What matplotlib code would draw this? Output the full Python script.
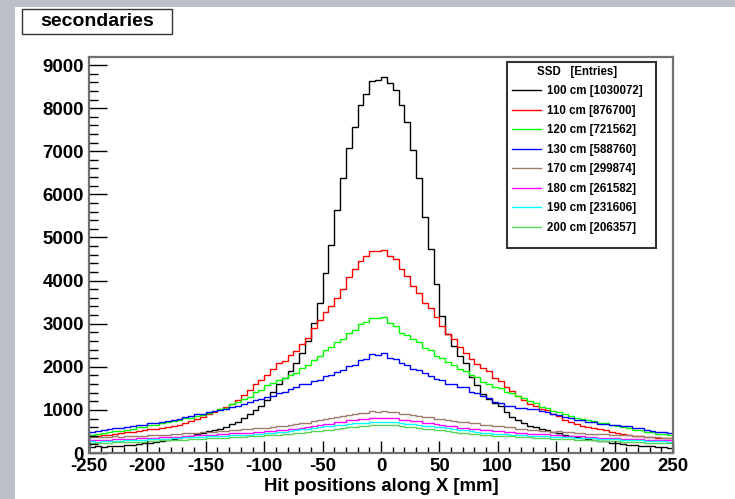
import numpy as np
import matplotlib
matplotlib.use('Agg')
import matplotlib.pyplot as plt
from matplotlib.patches import Rectangle
from matplotlib.ticker import MultipleLocator

plt.rcParams['font.family'] = 'Liberation Sans'
plt.rcParams['font.weight'] = 'bold'
plt.rcParams['axes.unicode_minus'] = False  # plain hyphen for negative ticks

# histogram binning along X (5 mm bins)
x_min, x_max = -250, 250
n_bins = 100

labels = ['100 cm [1030072]', '110 cm [876700]', '120 cm [721562]', '130 cm [588760]',
          '170 cm [299874]', '180 cm [261582]', '190 cm [231606]', '200 cm [206357]']
colors = ['#000000', '#ff0000', '#00ff00', '#0000ff', '#9c7a6e', '#ff00ff', '#00ffff', '#59d454']

# bin contents, left to right
h100 = [140, 152, 143, 160, 168, 172, 188, 193, 212, 222,
        243, 258, 283, 298, 328, 347, 373, 398, 433, 466,
        512, 528, 563, 598, 664, 726, 805, 895, 1008, 1094,
        1226, 1414, 1608, 1742, 1912, 2090, 2315, 2590, 3020, 3480,
        4170, 4830, 5630, 6370, 7080, 7570, 8080, 8320, 8640, 8660,
        8720, 8590, 8430, 8070, 7680, 7020, 6380, 5470, 4730, 3920,
        3180, 2760, 2490, 2240, 2090, 1770, 1570, 1360, 1260, 1150,
        1090, 955, 845, 755, 705, 636, 594, 546, 523, 487,
        458, 422, 397, 368, 347, 318, 307, 283, 267, 243,
        227, 203, 192, 178, 172, 158, 152, 138, 132, 115]
h110 = [383, 392, 414, 418, 444, 456, 479, 491, 514, 522,
        549, 561, 584, 597, 635, 661, 706, 740, 796, 835,
        907, 954, 1028, 1073, 1148, 1222, 1350, 1452, 1590, 1682,
        1812, 1940, 2085, 2140, 2275, 2368, 2520, 2665, 2900, 3085,
        3280, 3405, 3600, 3800, 4075, 4260, 4445, 4560, 4680, 4690,
        4710, 4580, 4500, 4265, 4095, 3865, 3715, 3485, 3375, 3165,
        2955, 2770, 2645, 2470, 2325, 2170, 2055, 1980, 1895, 1750,
        1680, 1532, 1438, 1322, 1238, 1144, 1096, 1024, 986, 914,
        856, 775, 726, 665, 634, 596, 578, 546, 528, 497,
        473, 437, 423, 397, 388, 372, 367, 352, 347, 338]
h120 = [423, 437, 463, 477, 499, 512, 539, 556, 594, 611,
        645, 656, 695, 711, 750, 771, 806, 820, 856, 876,
        926, 965, 1016, 1055, 1127, 1174, 1248, 1302, 1410, 1472,
        1580, 1632, 1690, 1733, 1812, 1850, 1975, 2048, 2168, 2245,
        2380, 2455, 2580, 2645, 2790, 2855, 3000, 3035, 3135, 3120,
        3160, 3025, 2935, 2785, 2735, 2635, 2585, 2445, 2385, 2255,
        2215, 2105, 2045, 1948, 1892, 1808, 1762, 1650, 1610, 1532,
        1498, 1422, 1388, 1312, 1278, 1212, 1158, 1072, 1036, 974,
        946, 894, 866, 814, 796, 754, 736, 694, 686, 649,
        636, 594, 580, 544, 526, 489, 480, 450, 440, 416]
h130 = [494, 507, 534, 546, 575, 586, 614, 626, 650, 661,
        686, 696, 726, 741, 776, 795, 836, 855, 896, 914,
        952, 964, 1008, 1024, 1068, 1094, 1148, 1173, 1230, 1252,
        1310, 1332, 1400, 1422, 1492, 1530, 1592, 1600, 1675, 1698,
        1775, 1798, 1878, 1915, 2020, 2045, 2150, 2185, 2285, 2280,
        2315, 2215, 2180, 2085, 2040, 1945, 1915, 1845, 1795, 1718,
        1695, 1608, 1600, 1538, 1522, 1418, 1402, 1318, 1282, 1190,
        1160, 1100, 1090, 1052, 1053, 1022, 1012, 968, 957, 903,
        872, 824, 811, 768, 756, 718, 710, 684, 680, 658,
        656, 624, 616, 584, 570, 530, 520, 490, 480, 455]
h170 = [372, 362, 378, 368, 384, 382, 384, 387, 399, 396,
        409, 412, 424, 427, 444, 441, 459, 456, 475, 476,
        495, 496, 515, 516, 535, 536, 555, 551, 570, 571,
        590, 596, 620, 626, 656, 665, 696, 705, 742, 754,
        792, 804, 842, 853, 893, 898, 933, 938, 964, 952,
        968, 944, 948, 913, 908, 873, 868, 833, 828, 793,
        788, 758, 753, 723, 722, 693, 688, 653, 652, 623,
        622, 593, 592, 563, 567, 538, 542, 518, 521, 498,
        500, 480, 480, 460, 460, 442, 444, 430, 434, 420,
        424, 414, 419, 400, 399, 381, 379, 361, 358, 342]
h180 = [303, 302, 313, 312, 323, 322, 333, 332, 343, 342,
        353, 352, 364, 366, 379, 381, 394, 396, 409, 411,
        424, 426, 439, 441, 454, 456, 474, 471, 489, 491,
        509, 506, 525, 525, 550, 560, 590, 600, 636, 644,
        676, 684, 717, 723, 757, 758, 792, 793, 817, 813,
        822, 803, 802, 773, 767, 738, 732, 698, 697, 663,
        657, 623, 617, 583, 577, 548, 546, 524, 525, 505,
        504, 486, 484, 466, 463, 452, 448, 436, 433, 417,
        418, 402, 403, 387, 388, 372, 373, 357, 358, 342,
        343, 332, 333, 322, 323, 312, 313, 302, 303, 297]
h190 = [267, 266, 275, 276, 286, 286, 296, 296, 308, 310,
        321, 322, 333, 336, 348, 348, 360, 363, 375, 376,
        386, 386, 396, 396, 406, 406, 418, 423, 438, 443,
        458, 463, 484, 492, 514, 522, 549, 557, 584, 597,
        619, 627, 649, 657, 679, 687, 704, 707, 719, 716,
        722, 709, 709, 692, 684, 662, 654, 632, 624, 602,
        594, 572, 559, 537, 529, 502, 494, 472, 469, 452,
        449, 432, 429, 412, 411, 400, 401, 390, 391, 380,
        381, 369, 368, 355, 355, 343, 341, 329, 329, 317,
        317, 303, 303, 291, 291, 280, 281, 270, 271, 263]
h200 = [227, 226, 235, 235, 245, 245, 255, 255, 265, 266,
        278, 279, 290, 290, 301, 302, 313, 315, 326, 328,
        340, 342, 353, 355, 366, 368, 380, 383, 396, 398,
        411, 413, 428, 433, 448, 458, 473, 483, 503, 513,
        533, 543, 563, 573, 593, 603, 623, 628, 643, 646,
        653, 643, 638, 623, 613, 593, 583, 563, 553, 533,
        523, 503, 493, 473, 463, 443, 438, 423, 418, 403,
        401, 388, 386, 374, 373, 360, 358, 346, 344, 332,
        330, 318, 316, 304, 303, 293, 293, 283, 283, 273,
        271, 260, 259, 248, 248, 238, 239, 230, 231, 223]

hists = [h100, h110, h120, h130, h170, h180, h190, h200]
edges = np.linspace(x_min, x_max, n_bins + 1)

W, H = 735, 499
fig = plt.figure(figsize=(W / 100, H / 100), dpi=100)
fig.patch.set_facecolor('#bdc0ca')
# white canvas on top of the grey slide background
fig.add_artist(Rectangle((15 / W, 0), 1 - 15 / W, 492 / H, transform=fig.transFigure,
                         facecolor='white', edgecolor='none', zorder=0))

ax = fig.add_axes([89 / W, 46 / H, 584 / W, 396 / H])
for h, c, lab in zip(hists, colors, labels):
    ax.stairs(h, edges, color=c, lw=1.0, label=lab)

ax.set_xlim(x_min, x_max)
ax.set_ylim(0, 9186)
ax.xaxis.set_major_locator(MultipleLocator(50))
ax.xaxis.set_minor_locator(MultipleLocator(10))
ax.yaxis.set_major_locator(MultipleLocator(1000))
ax.yaxis.set_minor_locator(MultipleLocator(200))
ax.tick_params(axis='x', which='major', direction='in', length=8.6, width=1, labelsize=13.4, pad=3.6)
ax.tick_params(axis='x', which='minor', direction='in', length=4.3, width=1)
ax.tick_params(axis='y', which='major', direction='in', length=13, width=1, labelsize=13.4, pad=3.6)
ax.tick_params(axis='y', which='minor', direction='in', length=6.5, width=1)
for s in ax.spines.values():
    s.set_color('#707070')
    s.set_linewidth(1.6)

ax.set_xlabel('Hit positions along X [mm]', fontsize=13.4, fontweight='bold')
ax.xaxis.set_label_coords(0.5, (453 - 491) / 396)
ax.xaxis.label.set_va('baseline')

# legend box drawn separately, entries placed inside it without their own frame
fig.add_artist(Rectangle((507 / W, (H - 248) / H), 149 / W, 186 / H, transform=fig.transFigure,
                         facecolor='white', edgecolor='#333333', lw=1.5, zorder=4))
leg = fig.legend(title='SSD   [Entries]', loc='upper left',
                 bbox_to_anchor=(512 / W, (H - 66) / H), bbox_transform=fig.transFigure,
                 borderaxespad=0, borderpad=0, fontsize=8.3, title_fontsize=8.3,
                 handlelength=2.5, handletextpad=0.5, labelspacing=0.65, frameon=False)
leg.get_title().set_fontweight('bold')
leg.set_zorder(5)

# title box in the top left corner
fig.add_artist(Rectangle((22 / W, (H - 34) / H), 150 / W, 25 / H, transform=fig.transFigure,
                         facecolor='white', edgecolor='#333333', lw=1.0))
fig.text(97 / W, (H - 22) / H, 'secondaries', ha='center', va='center', fontsize=14, fontweight='bold')

fig.savefig('out.png', dpi=100, facecolor=fig.get_facecolor())
